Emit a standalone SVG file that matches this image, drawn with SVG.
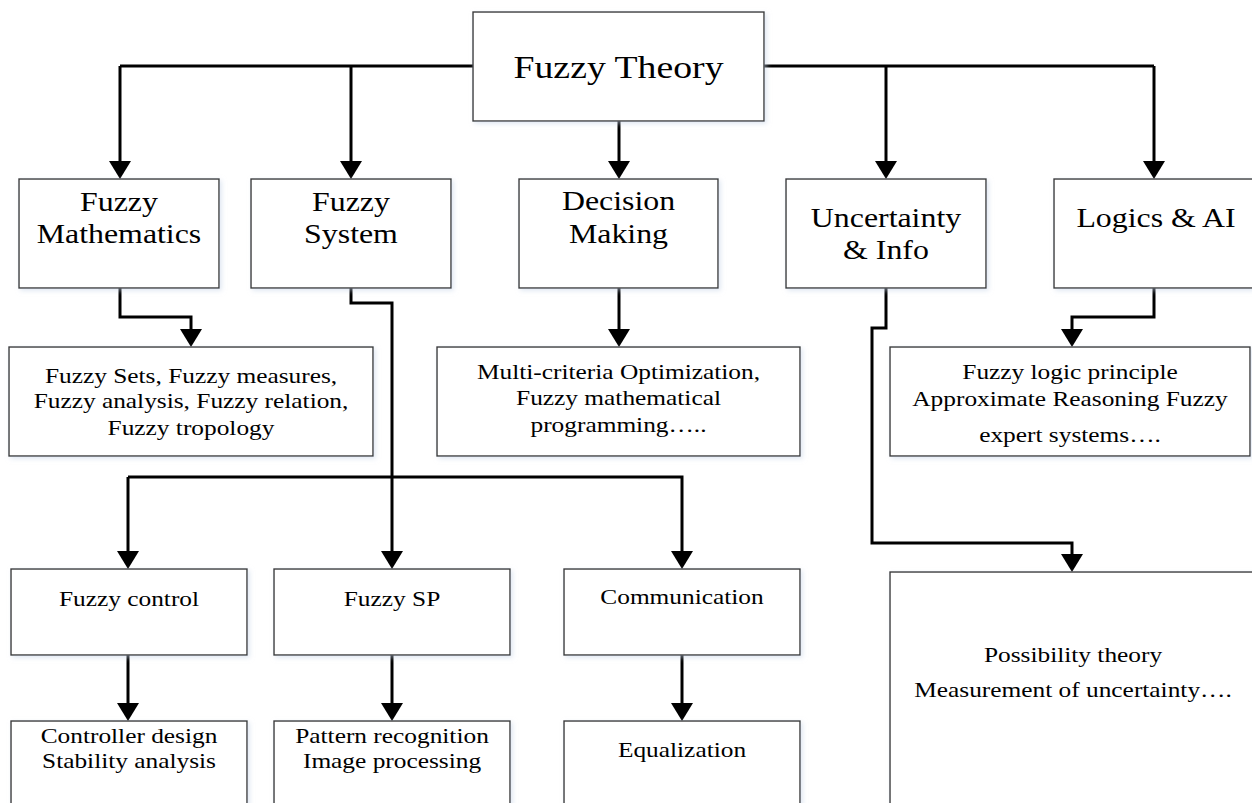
<svg xmlns="http://www.w3.org/2000/svg" width="1252" height="803" viewBox="0 0 1252 803">
<style>
.box{fill:#ffffff;stroke:#3a3a3a;stroke-width:1.4;filter:url(#sh)}
.t{font-family:"Liberation Serif","Times New Roman",serif;fill:#000;text-anchor:middle}
.t0{font-size:32px}
.t1{font-size:27px}
.t2{font-size:21.5px}
.c{fill:none;stroke:#000;stroke-width:3;stroke-linejoin:miter}
.ca{fill:none;stroke:#000;stroke-width:3;stroke-linejoin:miter;marker-end:url(#arr)}
</style>
<defs>
<filter id="sh" x="-10%" y="-10%" width="120%" height="120%">
<feDropShadow dx="2" dy="2" stdDeviation="2.5" flood-color="#c5d2e6" flood-opacity="0.55"/>
</filter>
<marker id="arr" markerUnits="userSpaceOnUse" markerWidth="18" markerHeight="22" viewBox="0 0 18 22" refX="0" refY="11" orient="auto">
<path d="M0,0 L18,11 L0,22 z" fill="#000"/>
</marker>
</defs>

<g id="connectors">
<path class="c" d="M473,66 H120"/>
<path class="ca" d="M120,66 V161"/>
<path class="ca" d="M351,66 V161"/>
<path class="ca" d="M619,121 V161"/>
<path class="c" d="M764,66 H1154"/>
<path class="ca" d="M1154,66 V161"/>
<path class="ca" d="M886,66 V161"/>
<path class="ca" d="M120,288 V317 H191 V329"/>
<path class="ca" d="M351,288 V303 H392 V551"/>
<path class="ca" d="M128,477 V551"/>
<path class="ca" d="M128,477 H682 V551"/>
<path class="ca" d="M619,288 V329"/>
<path class="ca" d="M886,288 V328 H872 V543 H1072 V554"/>
<path class="ca" d="M1154,288 V317 H1072 V329"/>
<path class="ca" d="M128,655 V703"/>
<path class="ca" d="M392,655 V703"/>
<path class="ca" d="M682,655 V703"/>
</g>

<g id="fuzzy-theory">
<rect class="box" x="473" y="12" width="291" height="109"/>
<text class="t t0" transform="translate(618.5 78) scale(1.18 1)">Fuzzy Theory</text>
</g>

<g id="fuzzy-mathematics">
<rect class="box" x="19" y="179" width="200" height="109"/>
<text class="t t1" transform="translate(119 211) scale(1.18 1)"><tspan x="0" y="0">Fuzzy</tspan><tspan x="0" y="32">Mathematics</tspan></text>
</g>

<g id="fuzzy-system">
<rect class="box" x="251" y="179" width="200" height="109"/>
<text class="t t1" transform="translate(351 211) scale(1.18 1)"><tspan x="0" y="0">Fuzzy</tspan><tspan x="0" y="32">System</tspan></text>
</g>

<g id="decision-making">
<rect class="box" x="519" y="179" width="199" height="109"/>
<text class="t t1" transform="translate(618.5 210) scale(1.18 1)"><tspan x="0" y="0">Decision</tspan><tspan x="0" y="33">Making</tspan></text>
</g>

<g id="uncertainty-info">
<rect class="box" x="786" y="179" width="200" height="109"/>
<text class="t t1" transform="translate(886 227) scale(1.18 1)"><tspan x="0" y="0">Uncertainty</tspan><tspan x="0" y="32">&amp; Info</tspan></text>
</g>

<g id="logics-ai">
<rect class="box" x="1054" y="179" width="200" height="109"/>
<text class="t t1" transform="translate(1156 227) scale(1.18 1)">Logics &amp; AI</text>
</g>

<g id="fuzzy-sets">
<rect class="box" x="9" y="347" width="364" height="109"/>
<text class="t t2" transform="translate(191 383) scale(1.18 1)"><tspan x="0" y="0">Fuzzy Sets, Fuzzy measures,</tspan><tspan x="0" y="25.5">Fuzzy analysis, Fuzzy relation,</tspan><tspan x="0" y="52">Fuzzy tropology</tspan></text>
</g>

<g id="multi-criteria">
<rect class="box" x="437" y="347" width="363" height="109"/>
<text class="t t2" transform="translate(618.5 379) scale(1.18 1)"><tspan x="0" y="0">Multi-criteria Optimization,</tspan><tspan x="0" y="26">Fuzzy mathematical</tspan><tspan x="0" y="53">programming…..</tspan></text>
</g>

<g id="fuzzy-logic">
<rect class="box" x="890" y="347" width="360" height="109"/>
<text class="t t2" transform="translate(1070 379) scale(1.18 1)"><tspan x="0" y="0">Fuzzy logic principle</tspan><tspan x="0" y="27">Approximate Reasoning Fuzzy</tspan><tspan x="0" y="63">expert systems….</tspan></text>
</g>

<g id="fuzzy-control">
<rect class="box" x="11" y="569" width="236" height="86"/>
<text class="t t2" transform="translate(129 606) scale(1.18 1)">Fuzzy control</text>
</g>

<g id="fuzzy-sp">
<rect class="box" x="274" y="569" width="236" height="86"/>
<text class="t t2" transform="translate(392 606) scale(1.18 1)">Fuzzy SP</text>
</g>

<g id="communication">
<rect class="box" x="564" y="569" width="236" height="86"/>
<text class="t t2" transform="translate(682 604) scale(1.18 1)">Communication</text>
</g>

<g id="controller-design">
<rect class="box" x="11" y="721" width="236" height="100"/>
<text class="t t2" transform="translate(129 743) scale(1.18 1)"><tspan x="0" y="0">Controller design</tspan><tspan x="0" y="25">Stability analysis</tspan></text>
</g>

<g id="pattern-recognition">
<rect class="box" x="274" y="721" width="236" height="100"/>
<text class="t t2" transform="translate(392 743) scale(1.18 1)"><tspan x="0" y="0">Pattern recognition</tspan><tspan x="0" y="25">Image processing</tspan></text>
</g>

<g id="equalization">
<rect class="box" x="564" y="721" width="236" height="100"/>
<text class="t t2" transform="translate(682 757) scale(1.18 1)">Equalization</text>
</g>

<g id="possibility">
<rect class="box" x="890" y="572" width="363" height="250"/>
<text class="t t2" transform="translate(1073 662) scale(1.18 1)"><tspan x="0" y="0">Possibility theory</tspan><tspan x="0" y="35">Measurement of uncertainty….</tspan></text>
</g>
</svg>
